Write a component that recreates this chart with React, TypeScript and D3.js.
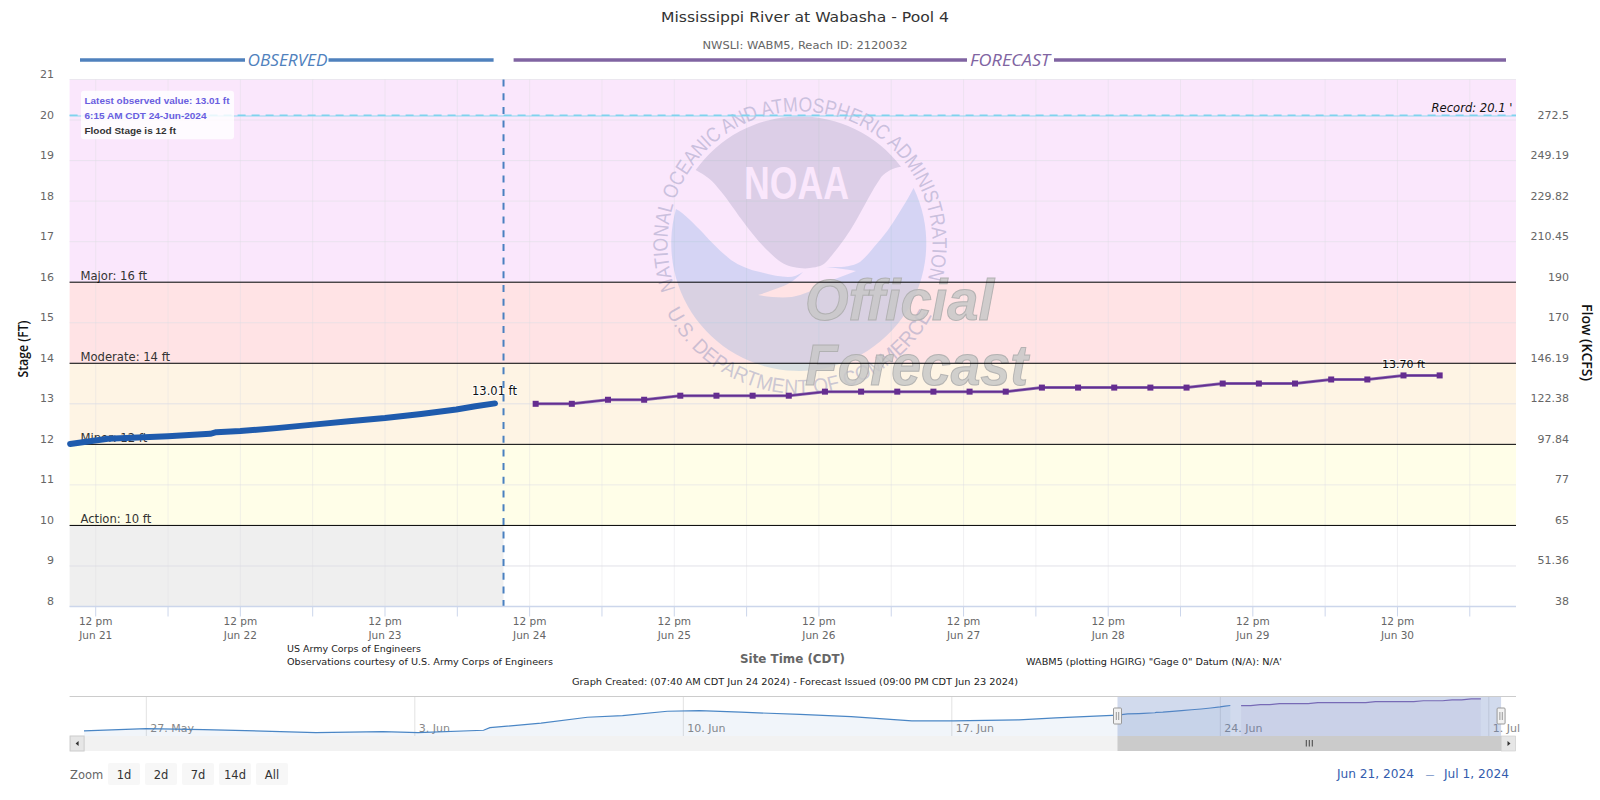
import React from "react";
import * as d3 from "d3";

const title = "Mississippi River at Wabasha - Pool 4";
const subtitle = "NWSLI: WABM5, Reach ID: 2120032";
const stageTicks = [8, 9, 10, 11, 12, 13, 14, 15, 16, 17, 18, 19, 20, 21];
const flowTicks = ["38", "51.36", "65", "77", "97.84", "122.38", "146.19", "170", "190", "210.45", "229.82", "249.19", "272.5"];
const thresholds = [
  { label: "Action: 10 ft", value: 10 },
  { label: "Minor: 12 ft", value: 12 },
  { label: "Moderate: 14 ft", value: 14 },
  { label: "Major: 16 ft", value: 16 },
];
const bandStops = [
  { from: 10, to: 12, color: "#fffee8" },
  { from: 12, to: 14, color: "#fef4e4" },
  { from: 14, to: 16, color: "#ffe3e5" },
  { from: 16, to: 21, color: "#fae7fc" },
];
const obsTimes = ["2024-06-21T07:45", "2024-06-21T14:00", "2024-06-21T21:00", "2024-06-22T00:00", "2024-06-22T07:00", "2024-06-22T08:00", "2024-06-22T12:00", "2024-06-22T18:00", "2024-06-22T23:40", "2024-06-23T06:00", "2024-06-23T12:00", "2024-06-23T18:00", "2024-06-23T23:50", "2024-06-24T03:00", "2024-06-24T06:15"];
const obsValues = [12.01, 12.14, 12.18, 12.2, 12.26, 12.3, 12.33, 12.4, 12.48, 12.57, 12.65, 12.75, 12.86, 12.94, 13.01];
const fcstTimes = [
  "2024-06-24T13:00", "2024-06-24T19:00", "2024-06-25T01:00", "2024-06-25T07:00", "2024-06-25T13:00", "2024-06-25T19:00",
  "2024-06-26T01:00", "2024-06-26T07:00", "2024-06-26T13:00", "2024-06-26T19:00", "2024-06-27T01:00", "2024-06-27T07:00",
  "2024-06-27T13:00", "2024-06-27T19:00", "2024-06-28T01:00", "2024-06-28T07:00", "2024-06-28T13:00", "2024-06-28T19:00",
  "2024-06-29T01:00", "2024-06-29T07:00", "2024-06-29T13:00", "2024-06-29T19:00", "2024-06-30T01:00", "2024-06-30T07:00",
  "2024-06-30T13:00", "2024-06-30T19:00",
];
const fcstValues = [13.0, 13.0, 13.1, 13.1, 13.2, 13.2, 13.2, 13.2, 13.3, 13.3, 13.3, 13.3, 13.3, 13.3, 13.4, 13.4, 13.4, 13.4, 13.4, 13.5, 13.5, 13.5, 13.6, 13.6, 13.7, 13.7];
const histTimes = ["2024-05-25T09:00", "2024-05-27T00:00", "2024-05-28T12:00", "2024-05-31T10:00", "2024-06-02T04:00", "2024-06-03T02:00", "2024-06-04T19:00", "2024-06-04T23:00", "2024-06-06T07:00", "2024-06-07T12:00", "2024-06-08T10:00", "2024-06-09T14:00", "2024-06-10T10:00", "2024-06-11T12:00", "2024-06-13T01:00", "2024-06-14T09:00", "2024-06-15T23:00", "2024-06-17T01:00", "2024-06-18T18:00", "2024-06-19T17:00"];
const histValues = [10.39, 10.63, 10.53, 10.22, 10.32, 10.22, 10.46, 10.73, 11.19, 11.8, 11.97, 12.42, 12.48, 12.32, 12.09, 11.87, 11.42, 11.42, 11.53, 11.73];
const zoomButtons = ["1d", "2d", "7d", "14d", "All"];

const P = { l: 69.6, r: 1516, t: 79.5, b: 606.5 };
const NAV = { t: 696.5, b: 736 };
const sans = "'DejaVu Sans', sans-serif";
const arial = "'Liberation Sans', Arial, sans-serif";
const open = "'Open Sans', sans-serif";

type Pt = { t: Date; v: number };
const zip = (ts: string[], vs: number[]): Pt[] => ts.map((s, i) => ({ t: new Date(s), v: vs[i] }));

export default function App() {
  const x = d3.scaleTime().domain([new Date("2024-06-21T07:40"), new Date("2024-07-01T07:40")]).range([P.l, P.r]);
  const y = d3.scaleLinear().domain([8, 21]).range([P.b, P.t]);
  const nx = d3.scaleTime().domain([new Date("2024-05-25T00:00"), new Date("2024-07-01T17:00")]).range([P.l, P.r]);
  const ny = d3.scaleLinear().domain([12, 13]).range([715.3, 705.6]);

  const obs = zip(obsTimes, obsValues);
  const fcst = zip(fcstTimes, fcstValues);
  const hist = zip(histTimes, histValues);
  const navObs = [...hist, ...obs];

  const line = d3.line<Pt>().x((d) => x(d.t)).y((d) => y(d.v));
  const nLine = d3.line<Pt>().x((d) => nx(d.t)).y((d) => ny(d.v));
  const nArea = d3.area<Pt>().x((d) => nx(d.t)).y0(NAV.b).y1((d) => ny(d.v));

  const xTicks = x.ticks(d3.timeHour.every(12)!);
  const navTicks = nx.ticks(d3.timeMonday.every(1)!);
  const now = x(new Date("2024-06-24T07:40"));
  const maskL = nx(x.domain()[0]);
  const maskR = nx(x.domain()[1]);
  const lastObs = obs[obs.length - 1];
  const peak = fcst[fcst.length - 2];
  const cx = 800, cy = 244, R = 127.5;
  const rad = (d: number) => (d * Math.PI) / 180;
  const upperR = 132.5, lowerR = 150;
  const upperPath = `M${cx - upperR * Math.cos(rad(20))},${cy + upperR * Math.sin(rad(20))} A${upperR},${upperR} 0 1 1 ${cx + upperR * Math.cos(rad(15))},${cy + upperR * Math.sin(rad(15))}`;
  const lowerPath = `M${cx - lowerR * Math.cos(rad(27))},${cy + lowerR * Math.sin(rad(27))} A${lowerR},${lowerR} 0 0 0 ${cx + lowerR * Math.cos(rad(27))},${cy + lowerR * Math.sin(rad(27))}`;
  const darkPath = `M695.7,170 C705,175 712,180 717,186.7 C727,198 733,208 742,220 C750,231 758,241 767,250 C775,258 783,265 792,266.7 C800,268 804,269 810,268 C818,267 823,266 828,260 C838,248 848,235 856.4,220 C865,205 872,190 881.4,176.7 C887,171 893,168 901,166.7 A${R},${R} 0 0 0 695.7,170 Z`;
  const bluePath = `M676,209 C685,214 694,224 703,233 C712,243 721,252 731,260 C740,266 750,270 760,272 C770,275 780,277 788,277 C794,277 798,275 803,272 C797,278 790,284 781,287 C773,290 765,293 758,295 C769,297 781,298 792,297 C803,295 814,290 824,283 C835,279 846,275 856,271 C846,269 836,268 826,267 C837,267 850,268 860,262 C866,257 870,252 874,247 C884,236 892,225 899,213 C904,205 909,197 913.6,188 A${R},${R} 0 1 1 676,209 Z`;

  return (
    <svg width={1600} height={800} style={{ position: "absolute", left: 0, top: 0, display: "block" }} xmlns="http://www.w3.org/2000/svg">
      <rect width={1600} height={800} fill="#fff" />
      <text x={805} y={22} textAnchor="middle" fontFamily={sans} fontSize={14.5} fill="#333" textLength={288} lengthAdjust="spacingAndGlyphs">{title}</text>
      <text x={805} y={49} textAnchor="middle" fontFamily={sans} fontSize={11} fill="#666" textLength={205} lengthAdjust="spacingAndGlyphs">{subtitle}</text>

      <line x1={80} x2={493.6} y1={60} y2={60} stroke="#4f81bd" strokeWidth={3.5} />
      <rect x={245} y={50} width={83.5} height={20} fill="#fff" />
      <text x={287.5} y={66} textAnchor="middle" fontFamily={open} fontStyle="italic" fontSize={16} fill="#4f81bd" textLength={80} lengthAdjust="spacingAndGlyphs">OBSERVED</text>
      <line x1={513.6} x2={1506} y1={60} y2={60} stroke="#8064a2" strokeWidth={3.5} />
      <rect x={967} y={50} width={87} height={20} fill="#fff" />
      <text x={1010} y={66} textAnchor="middle" fontFamily={open} fontStyle="italic" fontSize={16} fill="#8064a2" textLength={80} lengthAdjust="spacingAndGlyphs">FORECAST</text>

      {/* bands */}
      {bandStops.map((b) => (
        <rect key={b.from} x={P.l} width={P.r - P.l} y={y(b.to)} height={y(b.from) - y(b.to)} fill={b.color} />
      ))}
      <rect x={P.l} width={now - P.l} y={y(10)} height={y(8) - y(10)} fill="#efefef" />

      {/* grid */}
      {stageTicks.map((v) => (
        <line key={v} x1={P.l} x2={P.r} y1={y(v)} y2={y(v)} stroke="#dfdfe6" strokeOpacity={v === 13 || v === 9 ? 0.9 : 0.6} />
      ))}
      {xTicks.map((t) => (
        <line key={+t} x1={x(t)} x2={x(t)} y1={P.t} y2={P.b} stroke="#dcdce2" strokeOpacity={0.4} />
      ))}

      {/* watermark */}
      <g>
        <path d={darkPath} fill="rgb(100,111,152)" fillOpacity={0.2} />
        <path d={bluePath} fill="rgb(65,140,217)" fillOpacity={0.2} />
        <text x={796.5} y={199} textAnchor="middle" fontFamily={arial} fontWeight="bold" fontSize={46} fill="#fae7fc" textLength={105} lengthAdjust="spacingAndGlyphs">NOAA</text>
        <path id="ringTop" d={upperPath} fill="none" />
        <path id="ringBottom" d={lowerPath} fill="none" />
        <text fontFamily={arial} fontSize={20.5} fill="#9a9ac0" fillOpacity={0.5}>
          <textPath href="#ringTop" startOffset="0" textLength={498} lengthAdjust="spacingAndGlyphs">NATIONAL OCEANIC AND ATMOSPHERIC ADMINISTRATION</textPath>
        </text>
        <text fontFamily={arial} fontSize={20.5} fill="#9a9ac0" fillOpacity={0.5}>
          <textPath href="#ringBottom" startOffset="0" textLength={326} lengthAdjust="spacingAndGlyphs">U.S. DEPARTMENT OF COMMERCE</textPath>
        </text>
      </g>
      <g fontFamily={arial} fontWeight="bold" fontStyle="italic" fontSize={58} fill="#c8c8c8" stroke="#acacac" strokeWidth={1} fillOpacity={0.85} strokeOpacity={0.85}>
        <text x={805} y={320} textLength={189} lengthAdjust="spacingAndGlyphs">Official</text>
        <text x={805} y={385} textLength={223} lengthAdjust="spacingAndGlyphs">Forecast</text>
      </g>

      {/* record */}
      <line x1={P.l} x2={P.r} y1={y(20.1)} y2={y(20.1)} stroke="#8ed8ef" strokeWidth={1} />
      <line x1={P.l} x2={P.r} y1={y(20.1) - 0.7} y2={y(20.1) - 0.7} stroke="#7fd3ee" strokeWidth={1.4} strokeDasharray="8,6" />
      <text x={1512.5} y={111.5} textAnchor="end" fontFamily={sans} fontStyle="italic" fontSize={11.5} fill="#111" textLength={81} lengthAdjust="spacingAndGlyphs" stroke="#fae7fc" strokeWidth={2} paintOrder="stroke">Record: 20.1 '</text>

      {/* threshold labels */}
      {thresholds.map((t) => (
        <text key={t.value} x={80.5} y={y(t.value) - 2.5} fontFamily={sans} fontSize={11.6} fill="#333">{t.label}</text>
      ))}
      {/* data labels */}
      <text x={494.5} y={395} textAnchor="middle" fontFamily={sans} fontSize={11.5} fill="#111" stroke="#fff" strokeWidth={2} strokeOpacity={0.85} paintOrder="stroke">{`${lastObs.v.toFixed(2)} ft`}</text>
      <text x={x(peak.t)} y={367.5} textAnchor="middle" fontFamily={sans} fontSize={11} fill="#111" stroke="#fff" strokeWidth={2} strokeOpacity={0.85} paintOrder="stroke">{`${peak.v.toFixed(2)} ft`}</text>

      {thresholds.map((t) => (
        <line key={t.value} x1={P.l} x2={P.r} y1={y(t.value)} y2={y(t.value)} stroke="#000" strokeWidth={1} />
      ))}

      {/* now */}
      <line x1={now} x2={now} y1={P.t} y2={P.b} stroke="#4a80c0" strokeWidth={2} strokeDasharray="7,6.7" />

      {/* series */}
      <path d={line(obs)!} fill="none" stroke="#1f5bad" strokeWidth={6} strokeLinecap="round" strokeLinejoin="round" />
      <path d={line(fcst)!} fill="none" stroke="#8a6cb0" strokeWidth={3} />
      <path d={line(fcst)!} fill="none" stroke="#652d90" strokeWidth={1.5} />
      {fcst.map((d) => (
        <rect key={+d.t} x={x(d.t) - 3} y={y(d.v) - 3} width={6} height={6} fill="#652d90" />
      ))}

      {/* axes */}
      <line x1={P.l} x2={P.r} y1={P.b} y2={P.b} stroke="#ccd6eb" strokeWidth={1.5} />
      {xTicks.map((t) => (
        <line key={+t} x1={x(t)} x2={x(t)} y1={P.b} y2={P.b + 10} stroke="#ccd6eb" />
      ))}
      {xTicks.filter((t) => t.getHours() === 12).map((t) => (
        <g key={+t} fontFamily={sans} fontSize={10.5} fill="#666" textAnchor="middle">
          <text x={x(t)} y={625}>12 pm</text>
          <text x={x(t)} y={639}>{d3.timeFormat("%b %-d")(t)}</text>
        </g>
      ))}
      {stageTicks.map((v) => (
        <text key={v} x={54} y={y(v) - 1.5} textAnchor="end" fontFamily={sans} fontSize={11} fill="#666">{v}</text>
      ))}
      {flowTicks.map((f, i) => (
        <text key={f} x={1569} y={y(8 + i) - 1.5} textAnchor="end" fontFamily={sans} fontSize={11} fill="#666">{f}</text>
      ))}
      <text transform="translate(27.5,349) rotate(-90)" textAnchor="middle" fontFamily={open} fontWeight={600} fontSize={13.5} fill="#111" textLength={57} lengthAdjust="spacingAndGlyphs">Stage (FT)</text>
      <text transform="translate(1582,342.5) rotate(90)" textAnchor="middle" fontFamily={open} fontWeight={600} fontSize={13.5} fill="#111" textLength={77} lengthAdjust="spacingAndGlyphs">Flow (KCFS)</text>

      {/* tooltip */}
      <rect x={81} y={90.7} width={153} height={48.5} rx={3} fill="#fff" fillOpacity={0.82} />
      <g fontFamily={arial} fontWeight="bold" fontSize={9.5}>
        <text x={84.5} y={104} fill="#6a5ee0" textLength={145} lengthAdjust="spacingAndGlyphs">Latest observed value: 13.01 ft</text>
        <text x={84.5} y={119} fill="#6a5ee0" textLength={122} lengthAdjust="spacingAndGlyphs">6:15 AM CDT 24-Jun-2024</text>
        <text x={84.5} y={134} fill="#333" textLength={91.5} lengthAdjust="spacingAndGlyphs">Flood Stage is 12 ft</text>
      </g>

      {/* footer */}
      <g fontFamily={sans} fontSize={9.5} fill="#222">
        <text x={287} y={652}>US Army Corps of Engineers</text>
        <text x={287} y={665} textLength={266} lengthAdjust="spacingAndGlyphs">Observations courtesy of U.S. Army Corps of Engineers</text>
        <text x={1026} y={665} textLength={256} lengthAdjust="spacingAndGlyphs">WABM5 (plotting HGIRG) "Gage 0" Datum (N/A): N/A'</text>
        <text x={572} y={685} textLength={446} lengthAdjust="spacingAndGlyphs">Graph Created: (07:40 AM CDT Jun 24 2024) - Forecast Issued (09:00 PM CDT Jun 23 2024)</text>
      </g>
      <text x={792.5} y={663} textAnchor="middle" fontFamily={sans} fontWeight="bold" fontSize={13} fill="#666" textLength={105} lengthAdjust="spacingAndGlyphs">Site Time (CDT)</text>

      {/* navigator */}
      {navTicks.map((t) => (
        <g key={+t}>
          <line x1={nx(t)} x2={nx(t)} y1={NAV.t} y2={NAV.b} stroke="#e2e2e2" />
          <text x={nx(t) + 4} y={732} fontFamily={sans} fontSize={11} fill="#888">{d3.timeFormat("%-d. %b")(t)}</text>
        </g>
      ))}
      <path d={nArea(navObs)!} fill="#4f81bd" fillOpacity={0.08} />
      <path d={nArea(fcst)!} fill="#8064a2" fillOpacity={0.08} />
      <path d={nLine(navObs)!} fill="none" stroke="#4a86c5" strokeWidth={1.2} />
      <path d={nLine(fcst)!} fill="none" stroke="#7f5fb0" strokeWidth={1.2} />
      <rect x={maskL} y={NAV.t} width={maskR - maskL} height={NAV.b - NAV.t} fill="#6685c2" fillOpacity={0.3} />
      <line x1={P.l} x2={P.r} y1={NAV.t} y2={NAV.t} stroke="#ccc" strokeWidth={1.2} />

      {/* scrollbar */}
      <rect x={P.l} y={736} width={P.r - P.l} height={15} fill="#f2f2f2" />
      <rect x={maskL} y={736} width={maskR - maskL} height={15} fill="#cbcbcb" />
      <rect x={P.l + 0.5} y={736} width={14} height={15} fill="#e6e6e6" stroke="#ccc" />
      <rect x={P.r - 14.5} y={736} width={14} height={15} fill="#e6e6e6" stroke="#ccc" strokeWidth={0.6} />
      <path d={`M${P.l + 9},741 L${P.l + 6},743.5 L${P.l + 9},746 Z`} fill="#333" />
      <path d={`M${P.r - 8.5},741 L${P.r - 5.5},743.5 L${P.r - 8.5},746 Z`} fill="#333" />
      {[-3, 0, 3].map((d) => (
        <line key={d} x1={(maskL + maskR) / 2 + d} x2={(maskL + maskR) / 2 + d} y1={740} y2={746.5} stroke="#444" />
      ))}
      {[maskL, maskR].map((h) => (
        <g key={h}>
          <rect x={h - 4} y={708} width={8} height={16} rx={1} fill="#f2f2f2" stroke="#999" />
          <line x1={h - 1.2} x2={h - 1.2} y1={712} y2={720} stroke="#999" />
          <line x1={h + 1.2} x2={h + 1.2} y1={712} y2={720} stroke="#999" />
        </g>
      ))}

      {/* range selector */}
      <text x={70} y={779} fontFamily={sans} fontSize={11.5} fill="#666">Zoom</text>
      {zoomButtons.map((b, i) => (
        <g key={b}>
          <rect x={108 + i * 37} y={763} width={32} height={22} rx={2} fill="#f7f7f7" />
          <text x={124 + i * 37} y={779} textAnchor="middle" fontFamily={sans} fontSize={11.5} fill="#333">{b}</text>
        </g>
      ))}
      <g fontFamily={sans} fill="#335cad">
        <text x={1337} y={778} fontSize={11.5} textLength={77} lengthAdjust="spacingAndGlyphs">Jun 21, 2024</text>
        <text x={1430} y={778} fontSize={9} textAnchor="middle">—</text>
        <text x={1444} y={778} fontSize={11.5} textLength={65} lengthAdjust="spacingAndGlyphs">Jul 1, 2024</text>
      </g>
    </svg>
  );
}
